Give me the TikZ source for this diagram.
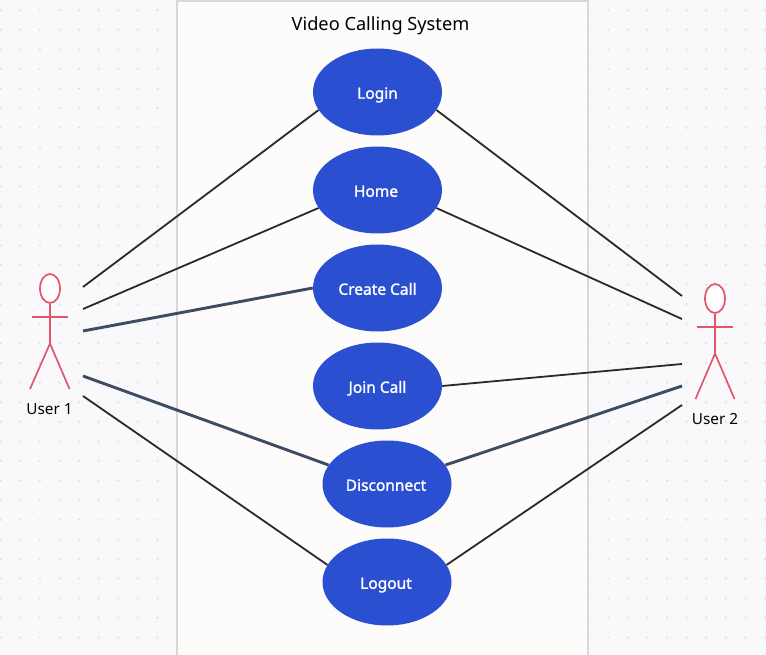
\documentclass[tikz,border=0pt]{standalone}
\usepackage{fontspec}
\setmainfont{Noto Sans}
\newfontfamily\ucfont{Noto Sans}[FakeBold=1.6]
\usetikzlibrary{shapes.geometric}
\definecolor{pagebg}{HTML}{F9F9FC}
\definecolor{griddot}{HTML}{DDDDE4}
\definecolor{boxfill}{HTML}{FDFCFB}
\definecolor{boxline}{HTML}{D8D8D8}
\definecolor{usecase}{HTML}{2B4FD1}
\definecolor{actorline}{HTML}{E2556B}
\definecolor{thinline}{HTML}{2A2A2A}
\definecolor{thickline}{HTML}{3D4B63}
\tikzset{
  usecasenode/.style={ellipse,fill=usecase,draw=none,minimum width=129pt,minimum height=87pt,inner sep=0pt,text=white,text height=14pt,text depth=0.5pt,font=\ucfont\fontsize{15.5}{18}\selectfont},
  thinlink/.style={draw=thinline,line width=1.8pt},
  thicklink/.style={draw=thickline,line width=2.9pt},
  headnode/.style={ellipse,draw=actorline,fill=white,line width=1.7pt,minimum width=20pt,minimum height=29pt,inner sep=0pt},
  limb/.style={draw=actorline,line width=1.7pt},
  actorlabel/.style={font=\fontsize{15.3}{18}\selectfont,text=black,inner sep=0pt},
}
\begin{document}
\begin{tikzpicture}[x=1pt,y=-1pt]
\useasboundingbox (0,0) rectangle (766,655);
\fill[pagebg] (0,0) rectangle (766,655);
\foreach \i in {0,...,39}{\foreach \j in {0,...,33}{
  \fill[griddot] ({0.6+19.6*\i},{10.2+19.6*\j}) circle (1.1pt);
}}
\draw[draw=boxline,fill=boxfill,line width=2pt] (177,1) rectangle (587.6,660);
\node[font=\fontsize{18.2}{22}\selectfont,text=black,inner sep=0pt] (title) at (380.5,25.5) {Video Calling System};
% use cases
\node[usecasenode] (login) at (377.5,92) {Login};
\node[usecasenode] (home) at (377.5,190) {Home\kern3pt};
\node[usecasenode] (create) at (377.5,288) {Create Call};
\node[usecasenode] (join) at (377.5,386) {Join Call};
\node[usecasenode] (disc) at (387,484) {Disconnect\kern2pt};
\node[usecasenode] (logout) at (387,582) {Logout\kern2pt};
% actor 1
\node[headnode] (h1) at (50,288.5) {};
\coordinate (a1l) at (32,317);
\coordinate (a1r) at (68,317);
\coordinate (hip1) at (50,343.5);
\coordinate (l1l) at (30,389);
\coordinate (l1r) at (69.5,389);
\draw[limb] (h1.south) -- (hip1);
\draw[limb] (a1l) -- (a1r);
\draw[limb] (l1l) -- (hip1) -- (l1r);
\node[actorlabel] (u1) at (49.5,409.5) {User 1};
% actor 2
\node[headnode] (h2) at (715,298.5) {};
\coordinate (a2l) at (697,327);
\coordinate (a2r) at (733,327);
\coordinate (hip2) at (715,353.5);
\coordinate (l2l) at (695.5,399);
\coordinate (l2r) at (734.5,399);
\draw[limb] (h2.south) -- (hip2);
\draw[limb] (a2l) -- (a2r);
\draw[limb] (l2l) -- (hip2) -- (l2r);
\node[actorlabel] (u2) at (715,419.5) {User 2};
% free ends
\coordinate (p1a) at (83,287);
\coordinate (p1b) at (83,309);
\coordinate (p1c) at (83,331);
\coordinate (p1d) at (83,376);
\coordinate (p1e) at (83,396);
\coordinate (p2a) at (682,296);
\coordinate (p2b) at (682,319);
\coordinate (p2c) at (682,364);
\coordinate (p2d) at (682,386);
\coordinate (p2e) at (682,405);
% connectors
\draw[thinlink] (p1a) -- (login.197);
\draw[thinlink] (p1b) -- (home.197);
\draw[thicklink] (p1c) -- (create.west);
\draw[thicklink] (p1d) -- (disc.162);
\draw[thinlink] (p1e) -- (logout.164);
\draw[thinlink] (p2a) -- (login.-17);
\draw[thinlink] (p2b) -- (home.-17);
\draw[thinlink] (p2c) -- (join.east);
\draw[thicklink] (p2d) -- (disc.18);
\draw[thinlink] (p2e) -- (logout.16);
\end{tikzpicture}
\end{document}
